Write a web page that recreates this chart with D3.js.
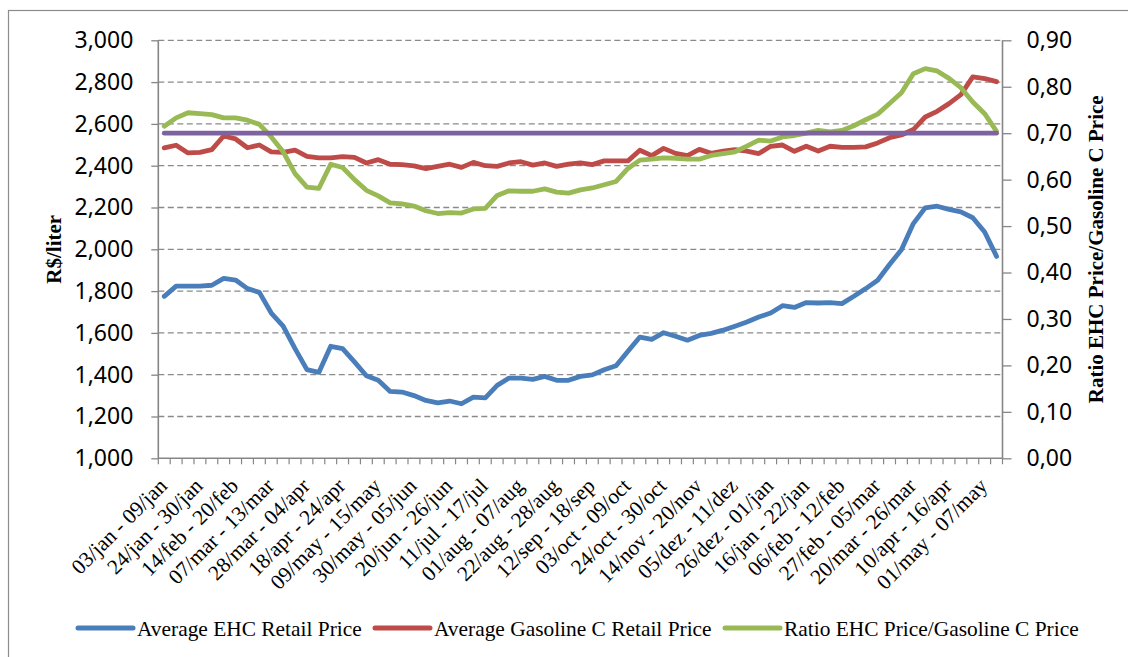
<!DOCTYPE html>
<html>
<head>
<meta charset="utf-8">
<script src="https://cdnjs.cloudflare.com/ajax/libs/d3/7.8.5/d3.min.js"></script>
<style>
  html, body { margin: 0; padding: 0; background: #ffffff; }
  svg { display: block; }
</style>
</head>
<body>
<svg id="chart" width="1128" height="657"></svg>
<script>
// ---------------- DATA ----------------
const weekLabels = [
  "03/jan - 09/jan", "24/jan - 30/jan", "14/feb - 20/feb", "07/mar - 13/mar",
  "28/mar - 04/apr", "18/apr - 24/apr", "09/may - 15/may", "30/may - 05/jun",
  "20/jun - 26/jun", "11/jul - 17/jul", "01/aug - 07/aug", "22/aug - 28/aug",
  "12/sep - 18/sep", "03/oct - 09/oct", "24/oct - 30/oct", "14/nov - 20/nov",
  "05/dez - 11/dez", "26/dez - 01/jan", "16/jan - 22/jan", "06/feb - 12/feb",
  "27/feb - 05/mar", "20/mar - 26/mar", "10/apr - 16/apr", "01/may - 07/may"
];
const labelEvery = 3;   // one visible label every 3 weeks

const ehcPrice = [
  1775, 1824, 1824, 1824, 1828, 1861, 1853, 1812, 1794, 1695,
  1632, 1525, 1424, 1411, 1536, 1525, 1461, 1395, 1373, 1320,
  1317, 1300, 1277, 1265, 1274, 1261, 1293, 1289, 1349, 1384,
  1384, 1378, 1392, 1373, 1373, 1392, 1399, 1424, 1443, 1512,
  1580, 1569, 1601, 1584, 1565, 1588, 1598, 1613, 1632, 1652,
  1676, 1695, 1730, 1722, 1745, 1743, 1745, 1740, 1775, 1812,
  1852, 1927, 1998, 2123, 2198, 2206, 2191, 2179, 2151, 2083,
  1966
];
const gasolinePrice = [
  2485, 2498, 2461, 2464, 2477, 2542, 2528, 2486, 2499, 2466,
  2464, 2474, 2445, 2437, 2437, 2443, 2440, 2413, 2429, 2407,
  2405, 2399, 2386, 2397, 2407, 2392, 2416, 2400, 2397, 2413,
  2419, 2403, 2413, 2397, 2408, 2413, 2405, 2423, 2423, 2423,
  2474, 2448, 2483, 2459, 2448, 2478, 2459, 2470, 2477, 2470,
  2458, 2493, 2499, 2469, 2493, 2470, 2493, 2488, 2488, 2490,
  2509, 2534, 2547, 2573, 2633, 2660, 2697, 2740, 2825, 2817,
  2802
];
const priceRatio = [
  0.715, 0.733, 0.744, 0.742, 0.740, 0.733, 0.733, 0.728, 0.719, 0.692,
  0.660, 0.613, 0.584, 0.581, 0.633, 0.626, 0.600, 0.577, 0.565, 0.550,
  0.548, 0.543, 0.533, 0.527, 0.529, 0.528, 0.537, 0.538, 0.566, 0.576,
  0.575, 0.575, 0.580, 0.573, 0.571, 0.578, 0.582, 0.589, 0.596, 0.624,
  0.642, 0.644, 0.647, 0.646, 0.644, 0.644, 0.652, 0.656, 0.660, 0.672,
  0.685, 0.683, 0.692, 0.695, 0.700, 0.706, 0.703, 0.706, 0.716, 0.729,
  0.741, 0.764, 0.787, 0.828, 0.839, 0.834, 0.818, 0.798, 0.767, 0.742,
  0.704
];
const parityRatio = 0.70;   // constant reference line

const leftTicks = [1000, 1200, 1400, 1600, 1800, 2000, 2200, 2400, 2600, 2800, 3000];
const rightTicks = [0, 0.1, 0.2, 0.3, 0.4, 0.5, 0.6, 0.7, 0.8, 0.9];

const seriesNames = ["Average EHC Retail Price", "Average Gasoline C Retail Price", "Ratio EHC Price/Gasoline C Price"];
const seriesColors = ["#4a7ebb", "#be4b48", "#98b954"];
const parityColor = "#7f63a1";

// ---------------- CHART ----------------
const svg = d3.select("#chart");
const plot = { left: 158.3, right: 1002.5, top: 40.3, bottom: 458.3 };
const nWeeks = ehcPrice.length;
const categories = d3.range(nWeeks);

const x = d3.scaleBand().domain(categories).range([plot.left, plot.right]).paddingInner(0).paddingOuter(0);
const cx = i => x(i) + x.bandwidth() / 2;
const yL = d3.scaleLinear().domain([1000, 3000]).range([plot.bottom, plot.top]);
const yR = d3.scaleLinear().domain([0, 0.9]).range([plot.bottom, plot.top]);

const axisColor = "#868686";
const numFont = "'Noto Sans', 'Open Sans', sans-serif";
const serifFont = "'Liberation Serif', 'Times New Roman', serif";

// outer chart frame
svg.append("rect").attr("x", 8.5).attr("y", 10.5).attr("width", 1140).attr("height", 700)
  .attr("fill", "none").attr("stroke", "#8c8c8c").attr("stroke-width", 1.2);

// gridlines
svg.append("g").selectAll("line").data(leftTicks.filter(d => d > 1000)).join("line")
  .attr("x1", plot.left).attr("x2", plot.right)
  .attr("y1", d => yL(d)).attr("y2", d => yL(d))
  .attr("stroke", "#8a8a8a").attr("stroke-width", 1.3).attr("stroke-dasharray", "6,3.5");

// left axis
const gL = svg.append("g").attr("transform", `translate(${plot.left},0)`)
  .call(d3.axisLeft(yL).tickValues(leftTicks).tickSize(7).tickPadding(18).tickFormat(d3.format(",")));
gL.select(".domain").remove();
gL.selectAll(".tick line").attr("stroke", axisColor).attr("stroke-width", 1.3);
gL.selectAll(".tick text").attr("font-family", numFont).attr("font-size", 23).attr("fill", "#000");
svg.append("line").attr("x1", plot.left).attr("x2", plot.left).attr("y1", plot.top).attr("y2", plot.bottom)
  .attr("stroke", axisColor).attr("stroke-width", 1.6);

// right axis
const commaLocale = d3.formatLocale({ decimal: ",", thousands: ".", grouping: [3], currency: ["", ""] });
const gR = svg.append("g").attr("transform", `translate(${plot.right},0)`)
  .call(d3.axisRight(yR).tickValues(rightTicks).tickSize(9).tickPadding(15).tickFormat(commaLocale.format(".2f")));
gR.select(".domain").remove();
gR.selectAll(".tick line").attr("stroke", axisColor).attr("stroke-width", 1.3);
gR.selectAll(".tick text").attr("font-family", numFont).attr("font-size", 23).attr("fill", "#000");
svg.append("line").attr("x1", plot.right).attr("x2", plot.right).attr("y1", plot.top).attr("y2", plot.bottom)
  .attr("stroke", axisColor).attr("stroke-width", 1.6);

// bottom axis with category boundary ticks
svg.append("g").selectAll("line").data(d3.range(nWeeks + 1)).join("line")
  .attr("x1", i => plot.left + i * x.bandwidth()).attr("x2", i => plot.left + i * x.bandwidth())
  .attr("y1", plot.bottom).attr("y2", plot.bottom + 6)
  .attr("stroke", axisColor).attr("stroke-width", 1.2);
svg.append("line").attr("x1", plot.left).attr("x2", plot.right).attr("y1", plot.bottom).attr("y2", plot.bottom)
  .attr("stroke", axisColor).attr("stroke-width", 1.6);

// category labels (rotated)
svg.append("g").selectAll("text").data(weekLabels).join("text")
  .attr("transform", (d, k) => `translate(${cx(k * labelEvery) + 4},${plot.bottom + 29}) rotate(-45)`)
  .attr("text-anchor", "end")
  .attr("font-family", serifFont).attr("font-size", 21.4).attr("fill", "#000")
  .text(d => d);

// axis titles
svg.append("text")
  .attr("transform", `translate(61,${(plot.top + plot.bottom) / 2}) rotate(-90)`)
  .attr("text-anchor", "middle").attr("font-family", serifFont).attr("font-size", 21).attr("font-weight", "bold")
  .text("R$/liter");
svg.append("text")
  .attr("transform", `translate(1103,${(plot.top + plot.bottom) / 2}) rotate(-90)`)
  .attr("text-anchor", "middle").attr("font-family", serifFont).attr("font-size", 21).attr("font-weight", "bold")
  .text("Ratio EHC Price/Gasoline C Price");

// lines
const lineL = d3.line().x((d, i) => cx(i)).y(d => yL(d));
const lineR = d3.line().x((d, i) => cx(i)).y(d => yR(d));
const lw = 4.8;
svg.append("path").datum(ehcPrice).attr("d", lineL).attr("fill", "none")
  .attr("stroke", seriesColors[0]).attr("stroke-width", lw).attr("stroke-linejoin", "round").attr("stroke-linecap", "round");
svg.append("path").datum(gasolinePrice).attr("d", lineL).attr("fill", "none")
  .attr("stroke", seriesColors[1]).attr("stroke-width", lw).attr("stroke-linejoin", "round").attr("stroke-linecap", "round");
svg.append("path").datum(priceRatio).attr("d", lineR).attr("fill", "none")
  .attr("stroke", seriesColors[2]).attr("stroke-width", lw).attr("stroke-linejoin", "round").attr("stroke-linecap", "round");
svg.append("path").datum(categories.map(() => parityRatio)).attr("d", lineR).attr("fill", "none")
  .attr("stroke", parityColor).attr("stroke-width", lw).attr("stroke-linejoin", "round").attr("stroke-linecap", "round");

// legend
const legendX = [78, 375, 725];
const legend = svg.append("g").selectAll("g").data(seriesNames).join("g")
  .attr("transform", (d, i) => `translate(${legendX[i]},628)`);
legend.append("line").attr("x1", 0).attr("x2", 55).attr("y1", 0).attr("y2", 0)
  .attr("stroke", (d, i) => seriesColors[i]).attr("stroke-width", 5).attr("stroke-linecap", "round");
legend.append("text").attr("x", 59).attr("y", 8)
  .attr("font-family", serifFont).attr("font-size", 21.4).attr("fill", "#000")
  .text(d => d);
</script>
</body>
</html>
